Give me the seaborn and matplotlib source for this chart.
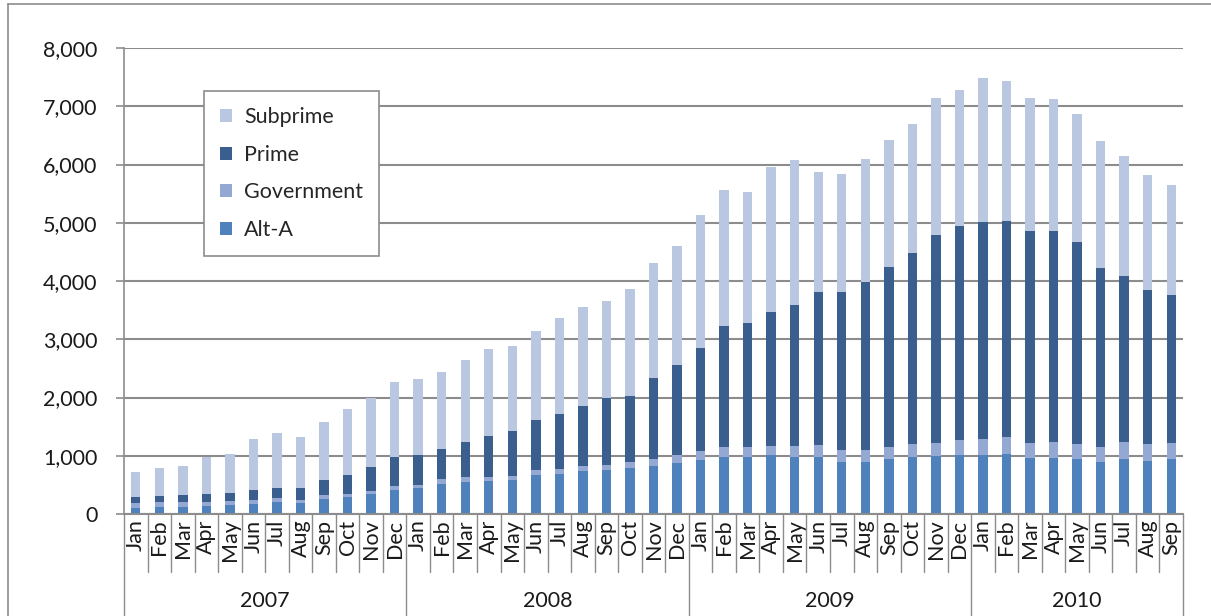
import numpy as np
import pandas as pd
import matplotlib
matplotlib.use("Agg")
import matplotlib.pyplot as plt
from matplotlib.patches import Patch
from matplotlib.lines import Line2D
import seaborn as sns

years = ["2007", "2008", "2009", "2010"]
months = ["Jan", "Feb", "Mar", "Apr", "May", "Jun", "Jul", "Aug", "Sep", "Oct", "Nov", "Dec"]
months_per_year = [12, 12, 12, 9]

alt_a = [108, 125, 125, 143, 160, 177, 211, 194, 263, 297, 349, 417,
         452, 521, 555, 572, 589, 675, 692, 738, 761, 784, 829, 876,
         921, 984, 984, 1013, 984, 984, 899, 899, 939, 984, 996, 1013,
         1013, 1036, 956, 967, 950, 893, 950, 916, 939]
government = [81, 81, 75, 63, 63, 58, 64, 41, 58, 46, 51, 64,
              53, 74, 86, 69, 69, 75, 81, 86, 80, 103, 121, 137,
              161, 160, 160, 160, 183, 200, 205, 205, 217, 218, 228, 257,
              275, 292, 268, 269, 257, 257, 286, 286, 285]
prime = [108, 108, 121, 137, 137, 182, 177, 217, 257, 332, 407, 492,
         500, 521, 590, 693, 762, 864, 949, 1035, 1150, 1144, 1380, 1550,
         1773, 2083, 2135, 2295, 2421, 2621, 2701, 2884, 3084, 3284, 3571, 3669,
         3719, 3708, 3629, 3628, 3457, 3079, 2855, 2649, 2541]
subprime = [419, 470, 498, 641, 670, 865, 944, 865, 1001, 1122, 1179, 1288,
            1307, 1327, 1419, 1493, 1459, 1528, 1648, 1689, 1666, 1826, 1974, 2033,
            2278, 2330, 2249, 2489, 2489, 2066, 2032, 2106, 2175, 2204, 2347, 2334,
            2478, 2392, 2289, 2261, 2209, 2180, 2049, 1963, 1889]

series_names = ["Alt-A", "Government", "Prime", "Subprime"]
colors = {"Alt-A": "#4F81BD", "Government": "#93A9D3", "Prime": "#3A5F8F", "Subprime": "#BAC7E0"}

month_labels = []
period_keys = []
for y, n in zip(years, months_per_year):
    for m in months[:n]:
        month_labels.append(m)
        period_keys.append(f"{y}-{m}")

sns.set_theme(style="white")
plt.rcParams["font.family"] = ["Lato", "DejaVu Sans"]
FS = 15.5

W, H = 1211, 616
fig = plt.figure(figsize=(W / 100, H / 100), dpi=100)
L, R, T, B = 124, 1183, 48, 514
ax = fig.add_axes([L / W, 1 - B / H, (R - L) / W, (B - T) / H])

bottom = np.zeros(len(period_keys))
for name, vals in zip(series_names, [alt_a, government, prime, subprime]):
    df = pd.DataFrame({"period": period_keys, "value": vals})
    sns.barplot(data=df, x="period", y="value", order=period_keys, color=colors[name],
                width=0.4, bottom=bottom.copy(), saturation=1, ax=ax, errorbar=None,
                edgecolor="none", linewidth=0)
    bottom += np.array(vals)

n = len(period_keys)
ax.set_xlim(-0.5, n - 0.5)
ax.set_ylim(0, 8000)
ax.set_yticks(range(0, 8001, 1000))
ax.set_yticklabels([f"{v:,}" for v in range(0, 8001, 1000)], fontsize=FS, color="#1a1a1a")
ax.yaxis.grid(True, color="#8c8c8c", linewidth=1.5)
ax.set_axisbelow(True)
for s in ["top", "right"]:
    ax.spines[s].set_visible(False)
ax.spines["left"].set_color("#8c8c8c")
ax.spines["bottom"].set_color("#8c8c8c")
ax.spines["left"].set_linewidth(1.2)
ax.spines["bottom"].set_linewidth(1.5)
ax.tick_params(axis="y", which="major", left=True, length=6, color="#8c8c8c", width=1.2, pad=13)
ax.set_xlabel("")
ax.set_ylabel("")

ax.set_xticks(range(n))
ax.set_xticklabels(month_labels, rotation=90, fontsize=FS, color="#1a1a1a")
ax.tick_params(axis="x", length=0, pad=4)
for lbl in ax.get_xticklabels():
    lbl.set_verticalalignment("top")

trans = ax.get_xaxis_transform()
ph = B - T
month_bottom = -(572 - B) / ph
year_bottom = -(H - B) / ph
boundaries = []
acc = 0
for nm in months_per_year:
    boundaries.append(acc)
    acc += nm
boundaries.append(acc)
year_bounds = set(b - 0.5 for b in boundaries)
for i in range(n + 1):
    xb = i - 0.5
    yb = year_bottom if xb in year_bounds else month_bottom
    ax.add_line(Line2D([xb, xb], [0, yb], transform=trans, color="#8c8c8c",
                       linewidth=1.0, clip_on=False))
for k, y in enumerate(years):
    xc = (boundaries[k] + boundaries[k + 1] - 1) / 2
    ax.text(xc, -(601 - B) / ph, y, transform=trans, ha="center", va="center",
            fontsize=FS, color="#1a1a1a")

handles = [Patch(facecolor=colors[nm], edgecolor="none") for nm in ["Subprime", "Prime", "Government", "Alt-A"]]
leg = ax.legend(handles, ["Subprime", "Prime", "Government", "Alt-A"],
                loc="upper left", bbox_to_anchor=(204 / W, 1 - 91 / H), bbox_transform=fig.transFigure,
                frameon=True, fancybox=False, fontsize=FS, handlelength=0.55, handleheight=0.55,
                handletextpad=0.55, labelspacing=0.82, borderpad=0.75, borderaxespad=0)
leg.get_frame().set_edgecolor("#8c8c8c")
leg.get_frame().set_linewidth(1.2)
leg.get_frame().set_facecolor("white")
leg.get_frame().set_alpha(1)

# chart border
fig.add_artist(Line2D([8 / W, 8 / W], [0, 1 - 4 / H], transform=fig.transFigure, color="#8c8c8c", linewidth=1.2))
fig.add_artist(Line2D([8 / W, 1], [1 - 4 / H, 1 - 4 / H], transform=fig.transFigure, color="#8c8c8c", linewidth=1.2))

fig.savefig("out.png", dpi=100)
